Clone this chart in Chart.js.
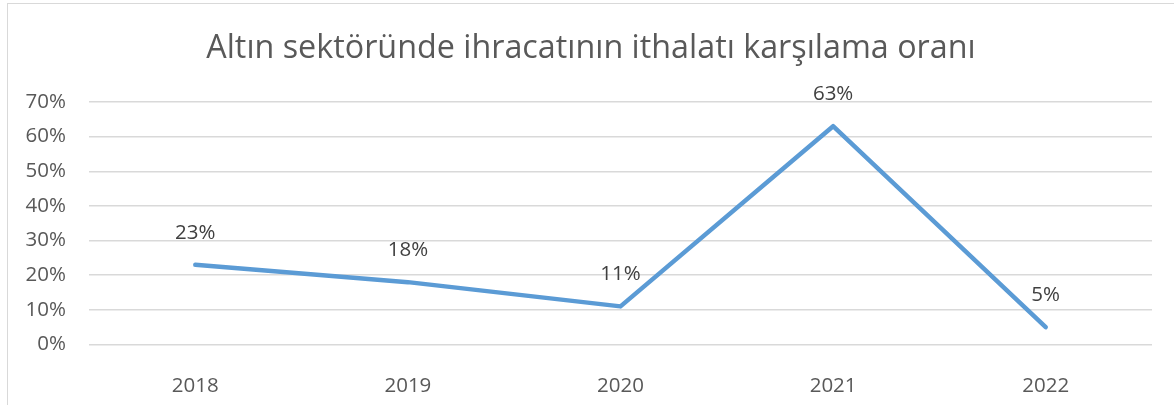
<!DOCTYPE html>
<html>
<head>
<meta charset="utf-8">
<script src="https://cdn.jsdelivr.net/npm/chart.js@4"></script>
<style>
  html, body { margin: 0; background: #fff; overflow: hidden; }
  #frame { position: absolute; left: 7px; top: 3px; width: 1200px; height: 420px; border: 1px solid #d9d9d9; }
  #wrap { position: absolute; left: 0; top: 0; width: 1182px; height: 405px; }
</style>
</head>
<body>
<div id="frame"></div>
<div id="wrap"><canvas id="oranChart"></canvas></div>
<script>
// years on the x-axis
var years = ["2018", "2019", "2020", "2021", "2022"];
// export/import coverage ratio, percent
var oran = [23, 18, 11, 63, 5];
var yTicks = [0, 10, 20, 30, 40, 50, 60, 70];

var fontName = "'Open Sans', sans-serif";

// draws the value above every point
var valueLabels = {
  id: "valueLabels",
  afterDatasetsDraw: function(chart) {
    var ctx = chart.ctx;
    var meta = chart.getDatasetMeta(0);
    ctx.save();
    ctx.font = "20.5px " + fontName;
    ctx.fillStyle = "#404040";
    ctx.textAlign = "center";
    ctx.textBaseline = "middle";
    meta.data.forEach(function(pt, i) {
      ctx.fillText(oran[i] + "%", pt.x, pt.y - 32);
    });
    ctx.restore();
  }
};

new Chart(document.getElementById("oranChart"), {
  type: "line",
  data: {
    labels: years,
    datasets: [{
      data: oran,
      borderColor: "#5b9bd5",
      borderWidth: 4.5,
      borderCapStyle: "round",
      borderJoinStyle: "round",
      pointRadius: 0,
      tension: 0,
      fill: false
    }]
  },
  options: {
    responsive: true,
    maintainAspectRatio: false,
    animation: false,
    layout: { padding: 0 },
    plugins: {
      legend: { display: false },
      tooltip: { enabled: false },
      title: {
        display: true,
        text: "Altın sektöründe ihracatının ithalatı karşılama oranı",
        color: "#595959",
        font: { family: fontName, size: 32.3, weight: "normal", lineHeight: 1.2 },
        padding: { top: 29, bottom: 34.2 }
      }
    },
    scales: {
      x: {
        offset: true,
        grid: { display: false },
        border: { display: false },
        ticks: { color: "#595959", font: { family: fontName, size: 20.5 }, padding: 21, maxRotation: 0 },
        afterFit: function(scale) { scale.height = 60.5; }
      },
      y: {
        min: 0,
        max: 70,
        afterBuildTicks: function(scale) { scale.ticks = yTicks.map(function(v) { return { value: v }; }); },
        grid: { color: "#d9d9d9", lineWidth: 1.5, drawTicks: false },
        border: { display: false },
        ticks: {
          color: "#595959",
          font: { family: fontName, size: 20.5 },
          padding: 23,
          callback: function(v) { return v + "%"; }
        },
        afterFit: function(scale) { scale.width = 89; }
      },
      // empty right-hand spacer so the plot ends at 1152 and the title centres like the original
      spacer: {
        type: "linear",
        position: "right",
        grid: { display: false },
        border: { display: false },
        ticks: { display: false },
        afterFit: function(scale) { scale.width = 30; }
      }
    }
  },
  plugins: [valueLabels]
});
</script>
</body>
</html>
